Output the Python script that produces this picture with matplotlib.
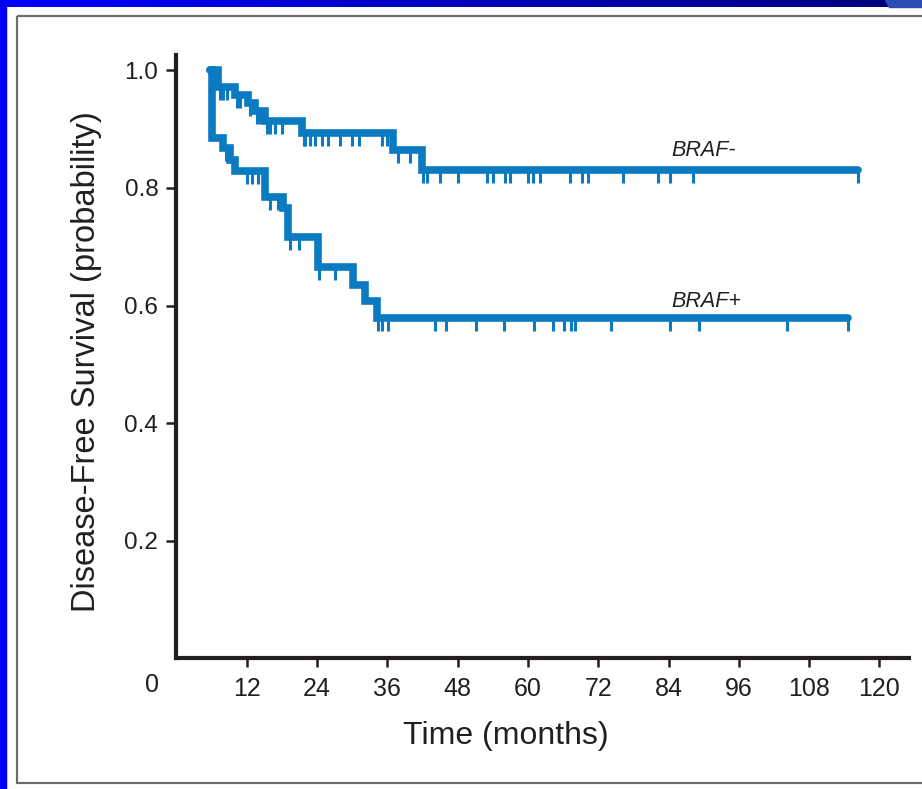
"""
Kaplan-Meier disease-free survival by BRAF status
"""

import numpy as np
import matplotlib

matplotlib.use("Agg")
import matplotlib.pyplot as plt
from matplotlib.colors import LinearSegmentedColormap
from matplotlib.patches import Rectangle, Polygon

# Step curves (time in months, survival probability after the step)
BRAF_NEG_TIMES = [5.7, 7.15, 10.0, 12.3, 13.4, 15.1, 21.4, 37.0, 41.9, 116.4]
BRAF_NEG_SURV = [1.0, 0.972, 0.958, 0.944, 0.930, 0.913, 0.893, 0.864, 0.831, 0.831]
BRAF_NEG_CENSOR = [7.4, 7.96, 8.6, 10.3, 10.8, 12.6, 13.7, 14.3, 15.4, 15.9, 16.8, 18.0,
                   21.7, 22.0, 22.8, 23.7, 24.8, 25.9, 27.9, 29.9, 31.1, 35.1, 35.9,
                   37.8, 39.9, 42.1, 42.8, 45.0, 48.1, 53.0, 54.1, 56.1, 56.9, 60.1,
                   60.9, 62.1, 67.2, 69.2, 70.3, 76.2, 82.2, 84.2, 88.2, 116.3]

BRAF_POS_TIMES = [5.7, 6.0, 8.0, 9.15, 10.0, 15.1, 18.25, 19.1, 24.2, 30.2, 32.2, 34.2, 114.7]
BRAF_POS_SURV = [1.0, 0.885, 0.868, 0.848, 0.828, 0.785, 0.766, 0.717, 0.666, 0.635,
                 0.607, 0.578, 0.578]
BRAF_POS_CENSOR = [8.4, 12.0, 12.9, 14.0, 16.0, 17.4, 19.4, 21.0, 24.4, 27.0, 34.4,
                   35.1, 36.2, 44.2, 46.0, 51.1, 56.0, 61.1, 64.2, 66.1, 67.3, 68.1,
                   74.2, 84.2, 89.2, 104.3, 114.6]

X_TICKS = [12, 24, 36, 48, 60, 72, 84, 96, 108, 120]
Y_TICKS = [0.2, 0.4, 0.6, 0.8, 1.0]
Y_TICK_LABELS = ["0.2", "0.4", "0.6", "0.8", "1.0"]

BLUE = "#0b7bc1"
INK = "#231f20"
W, H = 922, 789

SANS = ["Liberation Sans", "DejaVu Sans"]


def surv_at(times, surv, t):
    """Value of the step curve at time t"""
    idx = np.searchsorted(times, t, side="right") - 1
    return np.asarray(surv)[idx]


fig = plt.figure(figsize=(W / 100, H / 100), dpi=100)
fig.patch.set_facecolor("white")

# slide decoration: blue bars and grey frame
bg = fig.add_axes([0, 0, 1, 1], zorder=-1)
bg.axis("off")
grad = LinearSegmentedColormap.from_list("bar", ["#0000ff", "#00007a"])
bg.imshow(np.linspace(0, 1, 256)[None, :], cmap=grad, extent=(0, W, 7, 0), aspect="auto")
bg.add_patch(Polygon([(885, 0), (W, 0), (W, 7), (889, 7)], color="#2a4db5"))
bg.add_patch(Rectangle((0, 0), 6, H, color="#0000f8"))
bg.add_patch(Rectangle((17, 16), W, 767, fill=False, edgecolor="#6e6e6e", lw=1.6))
bg.set_xlim(0, W)
bg.set_ylim(H, 0)

ax = fig.add_axes([176.4 / W, 1 - 658.4 / H, (909.3 - 176.4) / W, (658.4 - 55) / H])
ax.set_facecolor("none")

for times, surv, cens in [
    (BRAF_NEG_TIMES, BRAF_NEG_SURV, BRAF_NEG_CENSOR),
    (BRAF_POS_TIMES, BRAF_POS_SURV, BRAF_POS_CENSOR),
]:
    t_plot = [times[0]] + list(times)
    s_plot = [1.0] + list(surv)
    ax.step(t_plot, s_plot, where="post", color=BLUE, lw=5.5,
            solid_capstyle="round", solid_joinstyle="miter", zorder=3)
    c = np.array(cens)
    s_c = surv_at(times, surv, c)
    ax.vlines(c, s_c - 0.022, s_c, color=BLUE, lw=2.2, zorder=2)

ax.text(84.4, 0.854, "BRAF-", fontsize=15.5, style="italic", color=INK, family=SANS)
ax.text(84.4, 0.597, "BRAF+", fontsize=15.5, style="italic", color=INK, family=SANS)

ax.set_xlim(0, 125.1)
ax.set_ylim(0, 1.026)
for side in ["top", "right"]:
    ax.spines[side].set_visible(False)
for side in ["left", "bottom"]:
    ax.spines[side].set_linewidth(3)
    ax.spines[side].set_color(INK)

ax.set_xticks(X_TICKS)
ax.set_xticklabels([str(v) for v in X_TICKS], family=SANS, fontsize=18, color=INK)
ax.set_yticks(Y_TICKS)
ax.set_yticklabels(Y_TICK_LABELS, family=SANS, fontsize=17.5, color=INK)
ax.tick_params(axis="x", length=6.5, width=1.8, color=INK, pad=7)
ax.tick_params(axis="y", length=7, width=1.8, color=INK, pad=6)

# origin label sits in the corner, offset from the axes
ax.annotate("0", xy=(0, 0), xytext=(-24.7, -27), textcoords="offset pixels",
            ha="center", va="center", family=SANS, fontsize=18, color=INK,
            annotation_clip=False)

ax.set_xlabel("Time (months)", family=SANS, fontsize=23, color=INK)
ax.xaxis.set_label_coords(0.45, -0.103)
ax.set_ylabel("Disease-Free Survival (probability)", family=SANS, fontsize=23.5,
              color=INK)
ax.yaxis.set_label_coords(-0.102, 0.492)

fig.savefig("out.png", dpi=100)
